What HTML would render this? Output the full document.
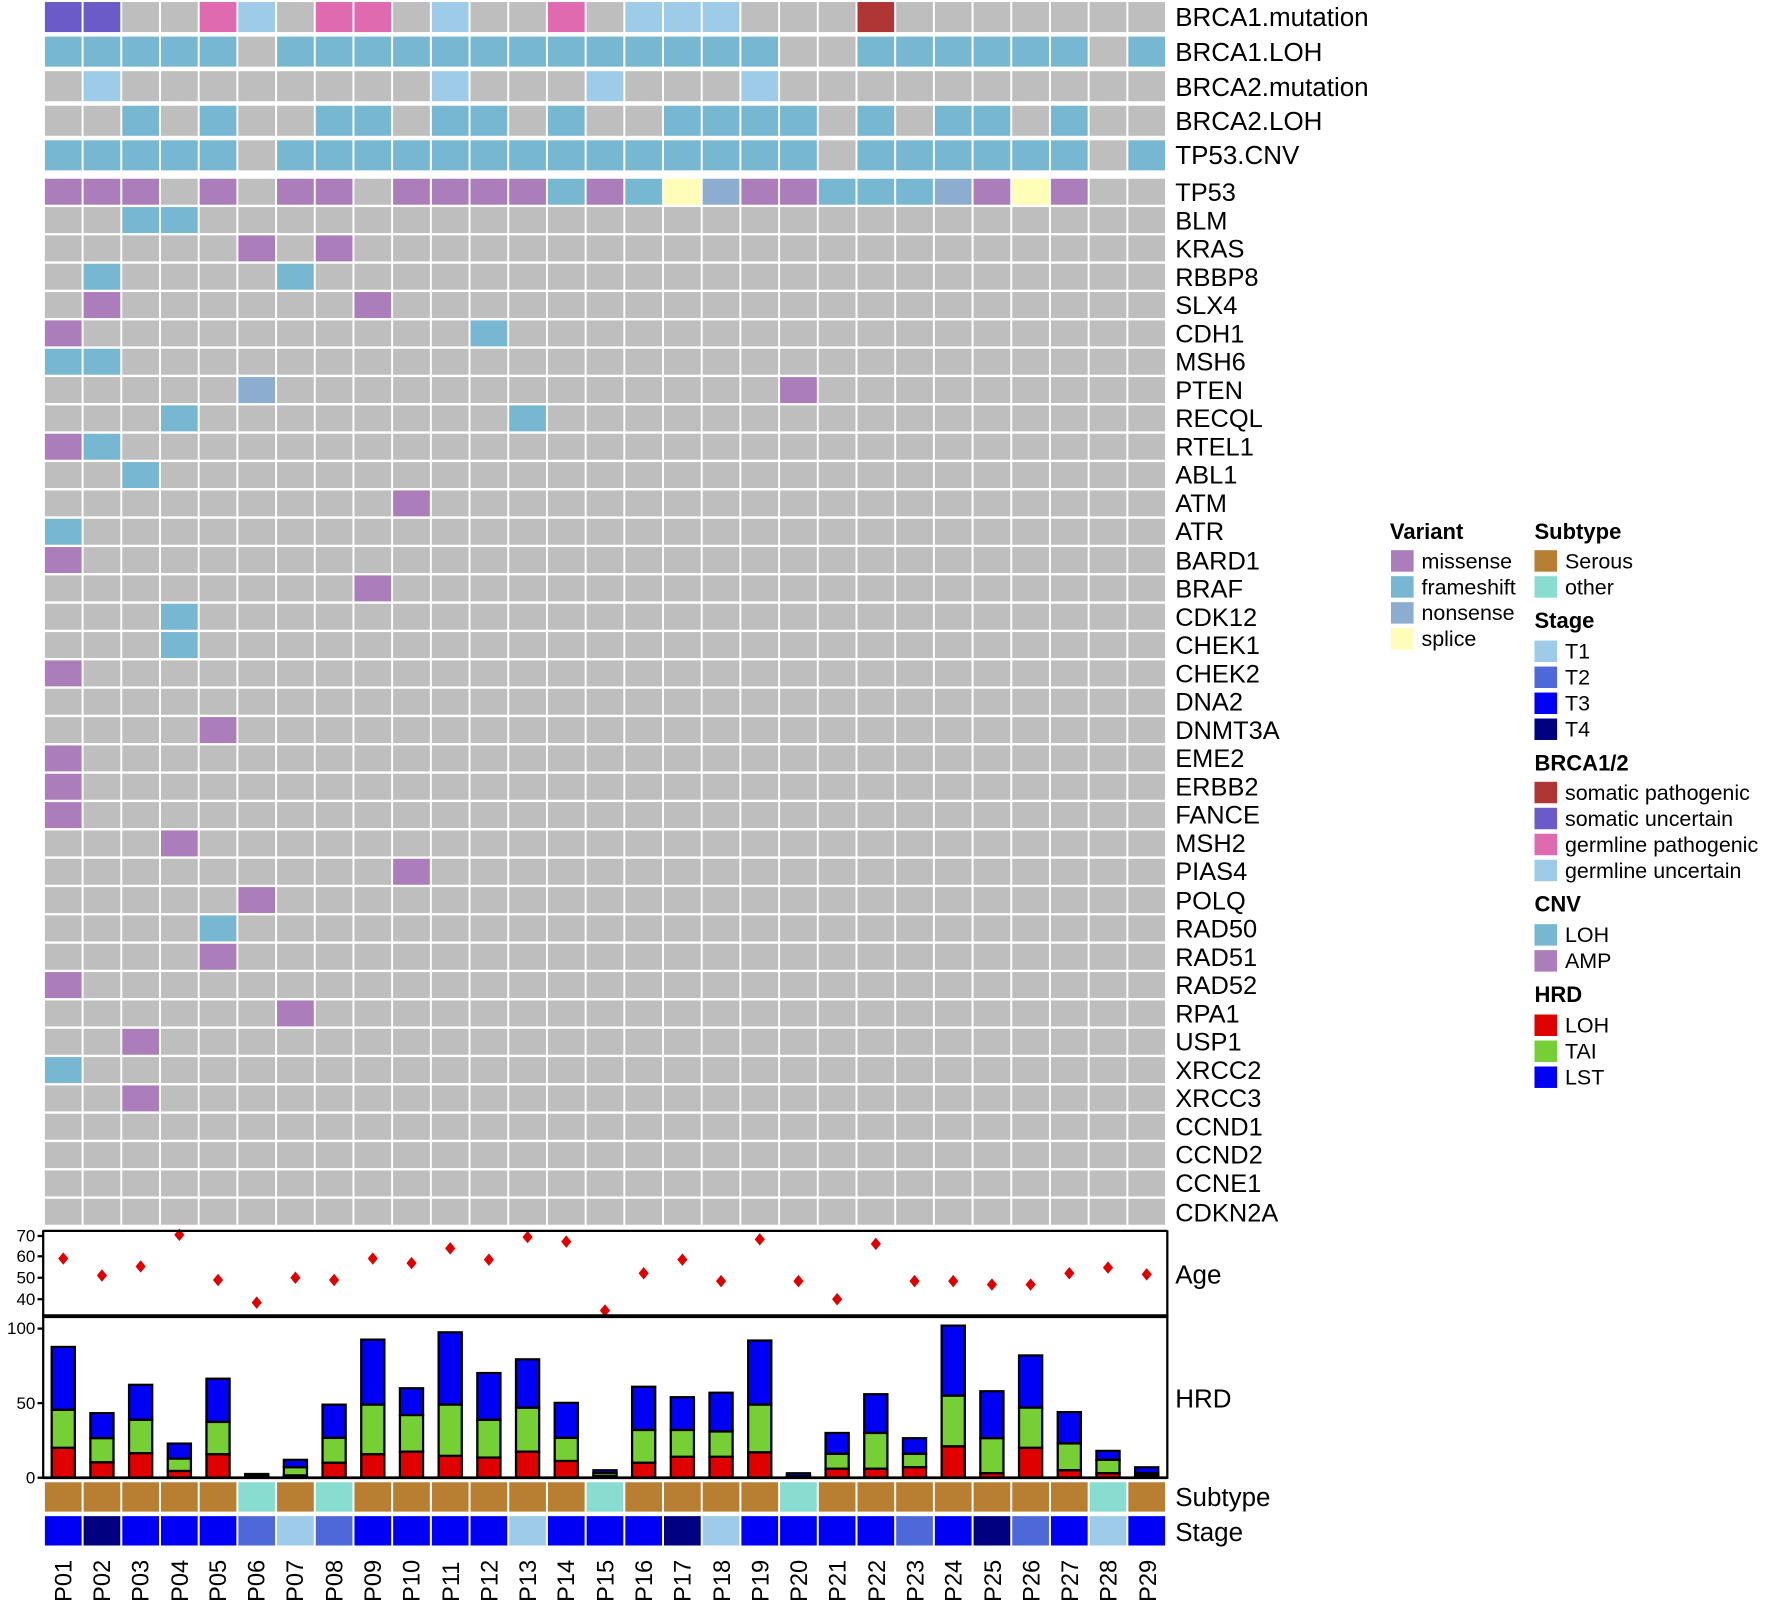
<!DOCTYPE html>
<html><head><meta charset="utf-8"><style>
html,body{margin:0;padding:0;background:#fff;}
svg{display:block;}
text{font-family:"Liberation Sans",Arial,sans-serif;fill:#000;}
.rl{font-size:23px;}
.gl{font-size:22.5px;}
.lt{font-size:19.5px;font-weight:bold;}
.li{font-size:19px;}
.tk{font-size:15px;}
.pl{font-size:21px;}
</style></head><body>
<svg id="s" width="1772" height="1602" viewBox="0 0 1568 1418" xmlns="http://www.w3.org/2000/svg">
<g id="cells"></g>
<g class="rl">
<text x="1040" y="23">BRCA1.mutation</text>
<text x="1040" y="54">BRCA1.LOH</text>
<text x="1040" y="85">BRCA2.mutation</text>
<text x="1040" y="115">BRCA2.LOH</text>
<text x="1040" y="145">TP53.CNV</text>
</g>
<g class="gl">
<text x="1040" y="178">TP53</text>
<text x="1040" y="203">BLM</text>
<text x="1040" y="228">KRAS</text>
<text x="1040" y="253">RBBP8</text>
<text x="1040" y="278">SLX4</text>
<text x="1040" y="303">CDH1</text>
<text x="1040" y="328">MSH6</text>
<text x="1040" y="353">PTEN</text>
<text x="1040" y="378">RECQL</text>
<text x="1040" y="403">RTEL1</text>
<text x="1040" y="428">ABL1</text>
<text x="1040" y="453">ATM</text>
<text x="1040" y="478">ATR</text>
<text x="1040" y="504">BARD1</text>
<text x="1040" y="529">BRAF</text>
<text x="1040" y="554">CDK12</text>
<text x="1040" y="579">CHEK1</text>
<text x="1040" y="604">CHEK2</text>
<text x="1040" y="629">DNA2</text>
<text x="1040" y="654">DNMT3A</text>
<text x="1040" y="679">EME2</text>
<text x="1040" y="704">ERBB2</text>
<text x="1040" y="729">FANCE</text>
<text x="1040" y="754">MSH2</text>
<text x="1040" y="779">PIAS4</text>
<text x="1040" y="805">POLQ</text>
<text x="1040" y="830">RAD50</text>
<text x="1040" y="855">RAD51</text>
<text x="1040" y="880">RAD52</text>
<text x="1040" y="905">RPA1</text>
<text x="1040" y="930">USP1</text>
<text x="1040" y="955">XRCC2</text>
<text x="1040" y="980">XRCC3</text>
<text x="1040" y="1005">CCND1</text>
<text x="1040" y="1030">CCND2</text>
<text x="1040" y="1055">CCNE1</text>
<text x="1040" y="1081">CDKN2A</text>
</g>
<g class="rl">
<text x="1040" y="1136">Age</text>
<text x="1040" y="1246">HRD</text>
<text x="1040" y="1333">Subtype</text>
<text x="1040" y="1364">Stage</text>
</g>
<g id="panels"></g>
<g class="tk" text-anchor="end">
<text x="31" y="1099">70</text>
<text x="31" y="1117">60</text>
<text x="31" y="1136">50</text>
<text x="31" y="1155">40</text>
<text x="31" y="1181">100</text>
<text x="31" y="1247">50</text>
<text x="31" y="1313">0</text>
</g>
<g class="pl">
<text transform="translate(63,1418) rotate(-90)">P01</text>
<text transform="translate(97,1418) rotate(-90)">P02</text>
<text transform="translate(131,1418) rotate(-90)">P03</text>
<text transform="translate(166,1418) rotate(-90)">P04</text>
<text transform="translate(200,1418) rotate(-90)">P05</text>
<text transform="translate(234,1418) rotate(-90)">P06</text>
<text transform="translate(268,1418) rotate(-90)">P07</text>
<text transform="translate(303,1418) rotate(-90)">P08</text>
<text transform="translate(337,1418) rotate(-90)">P09</text>
<text transform="translate(371,1418) rotate(-90)">P10</text>
<text transform="translate(406,1418) rotate(-90)">P11</text>
<text transform="translate(440,1418) rotate(-90)">P12</text>
<text transform="translate(474,1418) rotate(-90)">P13</text>
<text transform="translate(508,1418) rotate(-90)">P14</text>
<text transform="translate(543,1418) rotate(-90)">P15</text>
<text transform="translate(577,1418) rotate(-90)">P16</text>
<text transform="translate(611,1418) rotate(-90)">P17</text>
<text transform="translate(646,1418) rotate(-90)">P18</text>
<text transform="translate(680,1418) rotate(-90)">P19</text>
<text transform="translate(714,1418) rotate(-90)">P20</text>
<text transform="translate(748,1418) rotate(-90)">P21</text>
<text transform="translate(783,1418) rotate(-90)">P22</text>
<text transform="translate(817,1418) rotate(-90)">P23</text>
<text transform="translate(851,1418) rotate(-90)">P24</text>
<text transform="translate(886,1418) rotate(-90)">P25</text>
<text transform="translate(920,1418) rotate(-90)">P26</text>
<text transform="translate(954,1418) rotate(-90)">P27</text>
<text transform="translate(988,1418) rotate(-90)">P28</text>
<text transform="translate(1023,1418) rotate(-90)">P29</text>
</g>
<g id="leg"></g>
<text class="lt" x="1230" y="477">Variant</text>
<g class="li">
<text x="1258" y="503">missense</text>
<text x="1258" y="526">frameshift</text>
<text x="1258" y="549">nonsense</text>
<text x="1258" y="572">splice</text>
</g>
<text class="lt" x="1358" y="477">Subtype</text>
<text class="lt" x="1358" y="556">Stage</text>
<text class="lt" x="1358" y="682">BRCA1/2</text>
<text class="lt" x="1358" y="807">CNV</text>
<text class="lt" x="1358" y="887">HRD</text>
<g class="li">
<text x="1385" y="503">Serous</text>
<text x="1385" y="526">other</text>
<text x="1385" y="583">T1</text>
<text x="1385" y="606">T2</text>
<text x="1385" y="629">T3</text>
<text x="1385" y="652">T4</text>
<text x="1385" y="708">somatic pathogenic</text>
<text x="1385" y="731">somatic uncertain</text>
<text x="1385" y="754">germline pathogenic</text>
<text x="1385" y="777">germline uncertain</text>
<text x="1385" y="834">LOH</text>
<text x="1385" y="857">AMP</text>
<text x="1385" y="914">LOH</text>
<text x="1385" y="937">TAI</text>
<text x="1385" y="960">LST</text>
</g>
</svg>
<script>
(function(){
var NS="http://www.w3.org/2000/svg";
function R(p,x,y,w,h,f,st,sw){var r=document.createElementNS(NS,"rect");r.setAttribute("x",x);r.setAttribute("y",y);r.setAttribute("width",w);r.setAttribute("height",h);r.setAttribute("fill",f);if(st){r.setAttribute("stroke",st);r.setAttribute("stroke-width",sw||1);}p.appendChild(r);}
var C={g:"#BEBEBE",M:"#AB7DBA",F:"#78B7D1",N:"#8DADD0",S:"#FFFDB8",L:"#78B7D1",sp:"#B03535",su:"#6A5BC8",gp:"#E06AAF",gu:"#9ECBE8",ser:"#B87F33",oth:"#88DDD0",T1:"#9DCBE9",T2:"#4E68DA",T3:"#0000F5",T4:"#000080"};
var cells=document.getElementById("cells");
var X0=39.5,P=34.25,W=32.5;
function cx(i){return X0+i*P;}
function rowFill(y,h,map){for(var i=0;i<29;i++){var k=map[i+1]||"g";R(cells,cx(i),y,W,h,C[k]);}}
var top=[
{1:"su",2:"su",5:"gp",6:"gu",8:"gp",9:"gp",11:"gu",14:"gp",16:"gu",17:"gu",18:"gu",22:"sp"},
(function(){var o={};for(var i=1;i<=29;i++)o[i]="L";[6,20,21,28].forEach(function(j){delete o[j];});return o;})(),
{2:"gu",11:"gu",15:"gu",19:"gu"},
(function(){var o={};[3,5,8,9,11,12,14,17,18,19,20,22,24,25,27].forEach(function(j){o[j]="L";});return o;})(),
(function(){var o={};for(var i=1;i<=29;i++)o[i]="L";[6,21,28].forEach(function(j){delete o[j];});return o;})()
];
for(var r=0;r<5;r++)rowFill(1.8+r*30.6,26.6,top[r]);
var genes=[
{1:"M",2:"M",3:"M",5:"M",7:"M",8:"M",10:"M",11:"M",12:"M",13:"M",14:"F",15:"M",16:"F",17:"S",18:"N",19:"M",20:"M",21:"F",22:"F",23:"F",24:"N",25:"M",26:"S",27:"M"},
{3:"F",4:"F"},{6:"M",8:"M"},{2:"F",7:"F"},{2:"M",9:"M"},{1:"M",12:"F"},{1:"F",2:"F"},{6:"N",20:"M"},{4:"F",13:"F"},{1:"M",2:"F"},
{3:"F"},{10:"M"},{1:"F"},{1:"M"},{9:"M"},{4:"F"},{4:"F"},{1:"M"},{},{5:"M"},{1:"M"},{1:"M"},{1:"M"},{4:"M"},{10:"M"},{6:"M"},{5:"F"},{5:"M"},{1:"M"},{7:"M"},{3:"M"},{1:"F"},{3:"M"},{},{},{},{}
];
for(var g=0;g<genes.length;g++)rowFill(158.2+g*25.08,23,genes[g]);
var oth=[6,8,15,20,28],sub={};for(var i=1;i<=29;i++)sub[i]=oth.indexOf(i)>=0?"oth":"ser";
rowFill(1312,26,sub);
var stg="T3 T4 T3 T3 T3 T2 T1 T2 T3 T3 T3 T3 T1 T3 T3 T3 T4 T1 T3 T3 T3 T3 T2 T3 T4 T2 T3 T1 T3".split(" "),so={};
for(var i=0;i<29;i++)so[i+1]=stg[i];
rowFill(1342,26,so);
var pn=document.getElementById("panels");
function L(x1,y1,x2,y2,w){var l=document.createElementNS(NS,"line");l.setAttribute("x1",x1);l.setAttribute("y1",y1);l.setAttribute("x2",x2);l.setAttribute("y2",y2);l.setAttribute("stroke","#000");l.setAttribute("stroke-width",w);pn.appendChild(l);}
var ages=[1114,1129,1121,1093,1133,1153,1131,1133,1114,1118,1105,1115,1095,1099,1160,1127,1115,1134,1097,1134,1150,1101,1134,1134,1137,1137,1127,1122,1128];
for(var i=0;i<29;i++){var c=cx(i)+W/2,y=ages[i];var p=document.createElementNS(NS,"polygon");p.setAttribute("points",(c-4.5)+","+y+" "+c+","+(y-5.5)+" "+(c+4.5)+","+y+" "+c+","+(y+5.5));p.setAttribute("fill","#E00000");pn.appendChild(p);}
L(38,1089.5,1033,1089.5,2);L(38,1089,38,1309,2);L(1033,1089,1033,1309,2);L(37,1165,1034,1165,3.5);
[1094,1112,1131,1150,1176,1242,1308].forEach(function(y){L(33,y,38,y,2);});
var h=[[20,45.5,87.7],[10.3,26.5,43.3],[16.4,38.8,62.3],[4.5,12.8,22.9],[15.7,37.4,66.4],[0.5,1,2.5],[1.5,7,12],[10,26.7,49],[15.7,49,92.6],[17.5,42,60],[14.6,49,97.5],[13.5,38.8,70.2],[17.5,46.9,79.4],[11.2,26.7,50.2],[1,3,5],[10,32,61],[14,32,54],[14,31,57],[17,49,92],[0.5,1,3],[6,16,30],[6,30,56],[7,16,26.5],[21,55,102],[3,26.5,58],[20,47,82],[5,23,44],[3,12,18],[1.5,3,7]];
var Y0=1308,K=1.32;
for(var i=0;i<29;i++){var c=cx(i)+W/2,bw=20.5,x=c-bw/2,v=h[i];
R(pn,x,Y0-v[2]*K,bw,(v[2]-v[1])*K,"#0000F5","#000",2);
R(pn,x,Y0-v[1]*K,bw,(v[1]-v[0])*K,"#76D035","#000",2);
R(pn,x,Y0-v[0]*K,bw,v[0]*K,"#E00000","#000",2);}
L(38,1308,1033,1308,2.5);
var lg=document.getElementById("leg");
function B(x,y,f){R(lg,x,y,20,19,f);}
["M","F","N","S"].forEach(function(k,i){B(1231,487+i*23,C[k]);});
B(1358,487,C.ser);B(1358,510,C.oth);
["T1","T2","T3","T4"].forEach(function(k,i){B(1358,567+i*23,C[k]);});
["sp","su","gp","gu"].forEach(function(k,i){B(1358,692+i*23,C[k]);});
B(1358,818,C.L);B(1358,841,C.M);
B(1358,898,"#E00000");B(1358,921,"#76D035");B(1358,944,"#0000F5");
})();
</script>
</body></html>
